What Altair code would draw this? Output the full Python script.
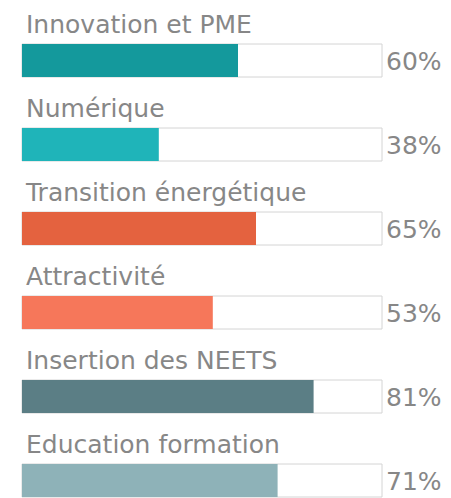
import altair as alt
import pandas as pd

categories = ["Innovation et PME", "Numérique", "Transition énergétique",
              "Attractivité", "Insertion des NEETS", "Education formation"]
values = [60, 38, 65, 53, 81, 71]
colors = ["#14999c", "#1fb4b9", "#e4623f", "#f6775a", "#5b7e85", "#8eb2b8"]
labels = [f"{v}%" for v in values]

df = pd.DataFrame({"cat": categories, "value": values, "color": colors,
                   "label": labels, "full": [100] * len(values), "zero": [0] * len(values)})

FONT = "DejaVu Sans"
TXT = "#878787"

x_scale = alt.Scale(domain=[0, 100], range=[14, 374])
y_enc = alt.Y("cat:N", sort=categories, axis=None,
              scale=alt.Scale(range=[10.5, 514.5], paddingInner=0, paddingOuter=0))

base = alt.Chart(df)

bg = base.mark_bar(size=33, fill="white", stroke="#d4d4d4", strokeWidth=1).encode(
    x=alt.X("zero:Q", scale=x_scale, axis=None),
    x2="full:Q",
    y=y_enc,
)

fg = base.mark_bar(size=33).encode(
    x=alt.X("zero:Q", scale=x_scale, axis=None),
    x2="value:Q",
    y=y_enc,
    color=alt.Color("color:N", scale=None),
)

cat_text = base.mark_text(align="left", baseline="alphabetic", font=FONT,
                          fontSize=25, color=TXT, dx=4, dy=-28).encode(
    x=alt.X("zero:Q", scale=x_scale, axis=None),
    y=y_enc,
    text="cat:N",
)

pct_text = base.mark_text(align="left", baseline="alphabetic", font=FONT,
                          fontSize=25, color=TXT, dx=4, dy=9.5).encode(
    x=alt.X("full:Q", scale=x_scale, axis=None),
    y=y_enc,
    text="label:N",
)

chart = alt.layer(bg, fg, cat_text, pct_text).properties(
    width=435, height=482, padding=0, background="white"
).configure_view(strokeWidth=0)

chart.save("out.html", embed_options={"renderer": "svg", "actions": False})
